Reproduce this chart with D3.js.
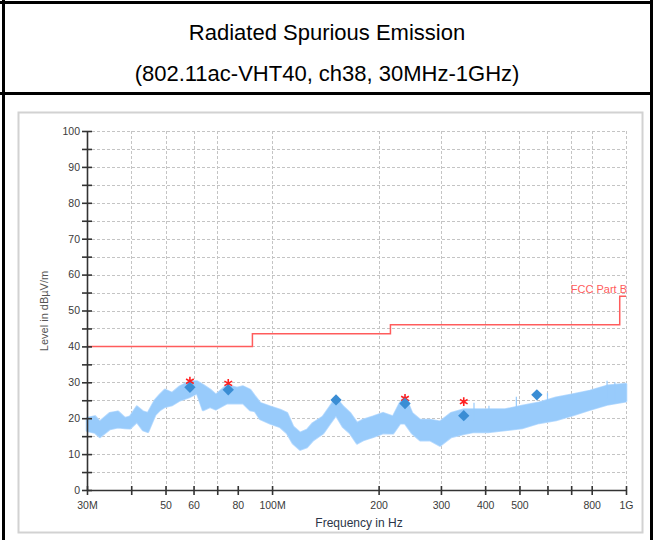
<!DOCTYPE html>
<html>
<head>
<meta charset="utf-8">
<script src="https://cdn.jsdelivr.net/npm/d3@7"></script>
<style>
  html, body { margin: 0; padding: 0; background: #fff; }
  svg { display: block; font-family: "Liberation Sans", Arial, sans-serif; }
</style>
</head>
<body>
<svg id="chart" width="653" height="540"></svg>
<script>
// ---------- data ----------
const titleLines = ["Radiated Spurious Emission", "(802.11ac-VHT40, ch38, 30MHz-1GHz)"];

const xTickValues = [30, 40, 50, 60, 70, 80, 100, 200, 300, 400, 500, 600, 700, 800, 1000];
const xTickLabels = {30: "30M", 50: "50", 60: "60", 80: "80", 100: "100M", 200: "200", 300: "300", 400: "400", 500: "500", 800: "800", 1000: "1G"};
const xGridValues = [40, 50, 60, 70, 100, 200, 300, 400, 500, 600, 700, 800, 1000];
const yTickValues = [0, 5, 10, 15, 20, 25, 30, 35, 40, 45, 50, 55, 60, 65, 70, 75, 80, 85, 90, 95, 100];

// FCC Part B limit (MHz, dBuV/m)
const limitFreq  = [30, 88, 88, 216, 216, 960, 960, 1000];
const limitLevel = [40, 40, 43.5, 43.5, 46, 46, 54, 54];

// measured spectrum envelope (MHz, dBuV/m)
const bandFreq = [30.0, 31.6, 32.6, 34.8, 36.7, 38.4, 39.7, 41.5, 43.2, 44.6, 46.7, 48.2, 49.8, 52.2, 54.9, 58.6, 61.4, 63.8, 66.8, 69.4, 74.6, 79.6, 82.8, 86.6, 89.5, 92.5, 98.7, 105.3, 110.2, 114.6, 120.0, 125.5, 130.5, 139.3, 145.8, 151.6, 158.7, 166.1, 173.8, 180.7, 192.9, 205.9, 219.7, 229.9, 237.5, 248.5, 261.9, 279.5, 298.3, 320.4, 348.7, 372.1, 407.7, 455.4, 508.6, 568.0, 634.4, 708.6, 791.5, 883.9, 1000];
const bandHigh = [20.0, 20.5, 19.0, 21.4, 21.8, 20.0, 20.4, 23.2, 21.8, 21.4, 25.0, 26.5, 27.9, 27.0, 28.8, 30.2, 30.2, 29.2, 27.9, 26.5, 29.2, 28.4, 28.8, 27.9, 26.0, 24.2, 23.2, 22.3, 21.4, 17.6, 15.9, 16.7, 18.6, 20.4, 23.2, 25.6, 23.2, 21.4, 18.6, 19.5, 20.4, 21.4, 20.4, 24.2, 26.0, 21.4, 19.5, 19.5, 19.0, 21.4, 22.4, 22.4, 22.4, 22.4, 23.4, 24.3, 25.7, 26.6, 27.6, 29.0, 29.5];
const bandLow  = [16.5, 16.0, 14.8, 17.0, 17.5, 17.3, 17.2, 19.0, 16.7, 16.2, 20.9, 22.3, 23.2, 23.7, 25.0, 26.0, 27.0, 22.3, 23.2, 22.5, 24.2, 24.2, 24.2, 22.3, 22.0, 19.8, 18.6, 17.6, 15.9, 13.0, 11.3, 12.0, 13.9, 15.8, 18.6, 20.9, 17.6, 15.9, 13.0, 13.9, 14.8, 15.9, 15.8, 18.6, 18.6, 15.9, 13.9, 13.9, 12.4, 14.8, 15.7, 16.2, 16.2, 16.7, 17.3, 18.7, 19.5, 20.9, 22.4, 23.8, 24.7];

// isolated spikes on top of the trace
const spikeFreq = [372, 410, 490, 600, 884, 930];
const spikeTop  = [24.3, 23.5, 26.0, 27.1, 30.4, 30.0];

// final measurement points
const peakFreq  = [58.6, 75.2, 237.5, 348];
const peakLevel = [30.3, 29.7, 25.5, 24.6];
const qpFreq    = [58.6, 75.2, 151.6, 237.5, 348, 560];
const qpLevel   = [28.6, 27.9, 25.1, 24.1, 20.7, 26.5];

// ---------- drawing ----------
const svg = d3.select("#chart");

// table frame
svg.append("rect").attr("x", 0).attr("y", 0).attr("width", 653).attr("height", 540).attr("fill", "#fff");
svg.append("line").attr("x1", 0).attr("x2", 653).attr("y1", 2.5).attr("y2", 2.5).attr("stroke", "#000").attr("stroke-width", 3);
svg.append("line").attr("x1", 0).attr("x2", 653).attr("y1", 93.5).attr("y2", 93.5).attr("stroke", "#000").attr("stroke-width", 3);
svg.append("line").attr("x1", 3.5).attr("x2", 3.5).attr("y1", 0).attr("y2", 540).attr("stroke", "#000").attr("stroke-width", 3);
svg.append("line").attr("x1", 651.5).attr("x2", 651.5).attr("y1", 0).attr("y2", 540).attr("stroke", "#000").attr("stroke-width", 3);

svg.selectAll("text.title").data(titleLines).enter().append("text")
  .attr("class", "title")
  .attr("x", 327).attr("y", (d, i) => i === 0 ? 40 : 81)
  .attr("text-anchor", "middle")
  .attr("font-size", 22).attr("fill", "#000")
  .text(d => d);

// chart picture frame
svg.append("rect").attr("x", 18.5).attr("y", 112.5).attr("width", 624).attr("height", 420)
  .attr("fill", "#fff").attr("stroke", "#d2d2d2").attr("stroke-width", 2);

const x = d3.scaleLog().domain([30, 1000]).range([87, 626]);
const y = d3.scaleLinear().domain([0, 100]).range([490, 131]);

// grid
const grid = svg.append("g").attr("stroke", "#c4c4c4").attr("stroke-width", 1).attr("stroke-dasharray", "3,2");
grid.selectAll("line.h").data(yTickValues.filter(v => v > 0)).enter().append("line")
  .attr("x1", x(30)).attr("x2", x(1000))
  .attr("y1", d => Math.round(y(d)) + 0.5).attr("y2", d => Math.round(y(d)) + 0.5);
grid.selectAll("line.v").data(xGridValues).enter().append("line")
  .attr("y1", y(100)).attr("y2", y(0))
  .attr("x1", d => Math.round(x(d)) + 0.5).attr("x2", d => Math.round(x(d)) + 0.5);

// spectrum band (soft halo + core)
const band = bandFreq.map((f, i) => ({f, hi: bandHigh[i], lo: bandLow[i]}));
const areaGen = d3.area().x(d => x(d.f)).y0(d => y(d.lo)).y1(d => y(d.hi));
svg.append("path").datum(band)
  .attr("fill", "none").attr("stroke", "#b5daff").attr("stroke-width", 2.6).attr("stroke-linejoin", "round")
  .attr("d", areaGen);
svg.append("path").datum(band)
  .attr("fill", "#98cbfb").attr("stroke", "#98cbfb").attr("stroke-width", 1)
  .attr("d", areaGen);
svg.selectAll("line.spike").data(spikeFreq).enter().append("line")
  .attr("stroke", "#98cbfb").attr("stroke-width", 1.2)
  .attr("x1", d => x(d)).attr("x2", d => x(d))
  .attr("y1", (d, i) => y(spikeTop[i])).attr("y2", (d, i) => y(spikeTop[i] - 5));

// limit line
const limit = limitFreq.map((f, i) => ({f, v: limitLevel[i]}));
svg.append("path").datum(limit)
  .attr("fill", "none").attr("stroke", "#ff5c5c").attr("stroke-width", 1.5)
  .attr("d", d3.line().x(d => x(d.f)).y(d => y(d.v)));
svg.append("text").attr("x", 627).attr("y", y(54) - 3).attr("text-anchor", "end")
  .attr("font-size", 11).attr("fill", "#ff5c5c").text("FCC Part B");

// peak markers (red asterisks)
svg.selectAll("path.peak").data(peakFreq).enter().append("path")
  .attr("transform", (d, i) => `translate(${x(d)},${y(peakLevel[i])})`)
  .attr("d", d3.symbol(d3.symbolAsterisk, 55)())
  .attr("fill", "none").attr("stroke", "#ff2020").attr("stroke-width", 1.6);

// QP markers (blue diamonds)
svg.selectAll("path.qp").data(qpFreq).enter().append("path")
  .attr("transform", (d, i) => `translate(${x(d)},${y(qpLevel[i])}) rotate(45)`)
  .attr("d", d3.symbol(d3.symbolSquare, 64)())
  .attr("fill", "#3a8dd4");

// axes
const yAxis = svg.append("g").attr("transform", `translate(${x(30)},0)`)
  .call(d3.axisLeft(y).tickValues(yTickValues).tickSize(5).tickSizeOuter(0).tickPadding(2)
    .tickFormat(d => d % 10 === 0 ? String(d) : ""));
yAxis.selectAll(".tick line").attr("x1", -5).attr("x2", 5);

const xAxis = svg.append("g").attr("transform", `translate(0,${y(0)})`)
  .call(d3.axisBottom(x).tickValues(xTickValues).tickSize(5).tickSizeOuter(0).tickPadding(7)
    .tickFormat(d => xTickLabels[d] || ""));
xAxis.selectAll(".tick line").attr("y1", -4).attr("y2", 5);

[yAxis, xAxis].forEach(g => {
  g.select(".domain").attr("stroke", "#333").attr("stroke-width", 1.6);
  g.selectAll(".tick line").attr("stroke", "#333").attr("stroke-width", 1.6);
  g.selectAll(".tick text").attr("font-size", 10.5).attr("fill", "#3a3a3a")
    .attr("font-family", "'Liberation Sans', Arial, sans-serif");
});

// axis titles
svg.append("text").attr("transform", "translate(48,311) rotate(-90)").attr("text-anchor", "middle")
  .attr("font-size", 11).attr("fill", "#555").text("Level in dBµV/m");
svg.append("text").attr("x", 359).attr("y", 527).attr("text-anchor", "middle")
  .attr("font-size", 12).attr("fill", "#2b3547").text("Frequency in Hz");
</script>
</body>
</html>
